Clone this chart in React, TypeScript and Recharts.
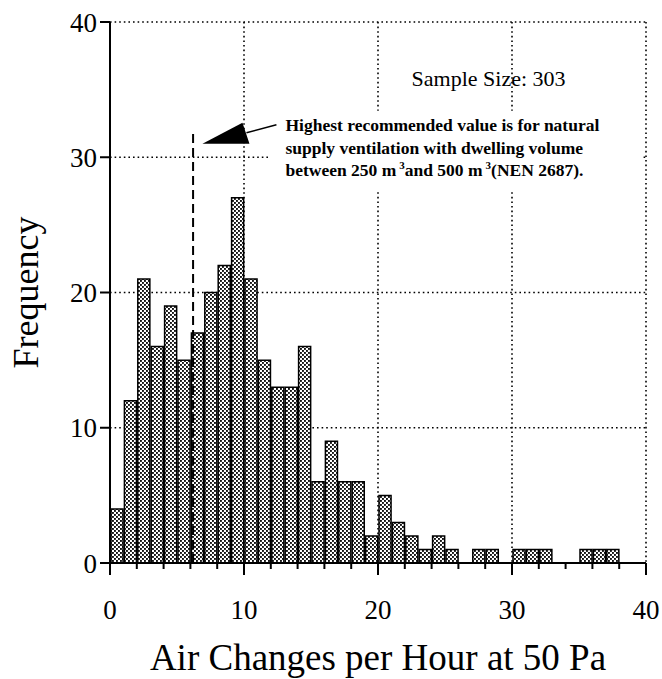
import React from "react";
import {
  BarChart,
  Bar,
  XAxis,
  YAxis,
  CartesianGrid,
  ReferenceLine,
  ReferenceDot,
  Label,
} from "recharts";

// histogram bins (lower edge, ACH at 50 Pa) and counts
const binStarts = [
  0, 1, 2, 3, 4, 5, 6, 7, 8, 9, 10, 11, 12, 13, 14, 15, 16, 17, 18, 19, 20,
  21, 22, 23, 24, 25, 26, 27, 28, 29, 30, 31, 32, 33, 34, 35, 36, 37, 38, 39,
];
const frequencies = [
  4, 12, 21, 16, 19, 15, 17, 20, 22, 27, 21, 15, 13, 13, 16, 6, 9, 6, 6, 2, 5,
  3, 2, 1, 2, 1, 0, 1, 1, 0, 1, 1, 1, 0, 0, 1, 1, 1, 0, 0,
];
const xTicks = [0, 2, 4, 6, 8, 10, 12, 14, 16, 18, 20, 22, 24, 26, 28, 30, 32, 34, 36, 38, 40];
const yTicks = [0, 10, 20, 30, 40];
const gridValues = [10, 20, 30, 40];

// recommended limit (dashed line) and annotation anchor
const limitValue = 6.2;
const limitTop = 31.8;
const arrowTip = { x: 6.9, y: 31 };
const sampleLabelAt = { x: 34, y: 35.3 };
const sampleSize = 303;
const noteLines = [
  "Highest recommended value is for natural",
  "supply ventilation with dwelling volume",
];

const data = binStarts.map((s, i) => ({ mid: s + 0.5, count: frequencies[i] }));

const serif = "'Liberation Serif', 'Times New Roman', serif";
const W = 662;
const H = 679;
const margin = { top: 22, right: 16, left: 10, bottom: 6 };
const yAxisWidth = 100;
const barWidth = (W - margin.left - margin.right - yAxisWidth) / 40;

const XTick = (props: any) => {
  const { x, y, payload } = props;
  const v = payload.value;
  const major = v % 10 === 0;
  return (
    <g>
      <line x1={x} x2={x} y1={y} y2={y + (major ? 12 : 6)} stroke="#000" strokeWidth={2} />
      {major && (
        <text x={x} y={y + 56} textAnchor="middle" fontSize={27} fontFamily={serif} fill="#000">
          {v}
        </text>
      )}
    </g>
  );
};

const Note = (props: any) => {
  const { cx, cy } = props;
  const tx = cx + 83;
  const fs = 17.5;
  return (
    <g>
      <rect x={cx + 66} y={cy - 33} width={374} height={80} fill="#fff" />
      <polygon
        points={`${cx},${cy} ${cx + 40},${cy - 21} ${cx + 47},${cy}`}
        fill="#000"
      />
      <line x1={cx + 44} y1={cy - 11} x2={cx + 74} y2={cy - 19} stroke="#000" strokeWidth={1.5} />
      <g fontFamily={serif} fontWeight="bold" fontSize={fs} fill="#000">
        <text x={tx} y={cy - 13}>{noteLines[0]}</text>
        <text x={tx} y={cy + 10}>{noteLines[1]}</text>
        <text x={tx} y={cy + 32}>
          between 250 m
          <tspan dx={3} dy={-7} fontSize={11}>3</tspan>
          <tspan dy={7}>and 500 m</tspan>
          <tspan dx={3} dy={-7} fontSize={11}>3</tspan>
          <tspan dy={7}>(NEN 2687).</tspan>
        </text>
      </g>
    </g>
  );
};

const SampleText = (props: any) => {
  const { cx, cy } = props;
  return (
    <text x={cx} y={cy} textAnchor="end" fontFamily={serif} fontSize={22} fill="#000">
      Sample Size: {sampleSize}
    </text>
  );
};

export default function App() {
  return (
    <div style={{ width: W, height: H, background: "#fff" }}>
      <style>{"body{margin:0;background:#fff}"}</style>
      <BarChart width={W} height={H} data={data} margin={margin} barCategoryGap={0} barGap={0}>
        <defs>
          <pattern id="stipple" width="4" height="4" patternUnits="userSpaceOnUse">
            <rect width="4" height="4" fill="#fff" />
            <rect x="0" y="0" width="1.9" height="1.9" fill="#111" />
            <rect x="2" y="2" width="1.9" height="1.9" fill="#111" />
          </pattern>
        </defs>
        <CartesianGrid
          stroke="#000"
          strokeWidth={1.6}
          strokeDasharray="1.6 3"
          horizontalValues={gridValues}
          verticalValues={gridValues}
        />
        <XAxis
          type="number"
          dataKey="mid"
          domain={[0, 40]}
          ticks={xTicks}
          interval={0}
          tick={<XTick />}
          tickLine={false}
          tickSize={0}
          tickMargin={0}
          height={110}
          axisLine={{ stroke: "#000", strokeWidth: 2 }}
          allowDataOverflow
        >
          <Label
            content={({ viewBox }: any) => (
              <text
                x={viewBox.x + viewBox.width / 2}
                y={viewBox.y + 107}
                textAnchor="middle"
                fontFamily={serif}
                fontSize={37}
                fill="#000"
              >
                Air Changes per Hour at 50 Pa
              </text>
            )}
          />
        </XAxis>
        <YAxis
          domain={[0, 40]}
          ticks={yTicks}
          interval={0}
          width={yAxisWidth}
          tickSize={10}
          tickMargin={3}
          tickLine={{ stroke: "#000", strokeWidth: 2 }}
          axisLine={{ stroke: "#000", strokeWidth: 2 }}
          tick={{ fill: "#000", fontSize: 27, fontFamily: serif }}
        >
          <Label
            content={({ viewBox }: any) => {
              const lx = viewBox.x + 28;
              const ly = viewBox.y + viewBox.height / 2;
              return (
                <text
                  x={lx}
                  y={ly}
                  transform={`rotate(-90, ${lx}, ${ly})`}
                  textAnchor="middle"
                  fontFamily={serif}
                  fontSize={36}
                  fill="#000"
                >
                  Frequency
                </text>
              );
            }}
          />
        </YAxis>
        <Bar
          dataKey="count"
          fill="url(#stipple)"
          stroke="#000"
          strokeWidth={1.5}
          barSize={barWidth}
          isAnimationActive={false}
        />
        <ReferenceLine
          segment={[
            { x: limitValue, y: 0 },
            { x: limitValue, y: limitTop },
          ]}
          stroke="#000"
          strokeWidth={2}
          strokeDasharray="9 5"
        />
        <ReferenceDot x={arrowTip.x} y={arrowTip.y} r={0} shape={<Note />} />
        <ReferenceDot x={sampleLabelAt.x} y={sampleLabelAt.y} r={0} shape={<SampleText />} />
      </BarChart>
    </div>
  );
}
